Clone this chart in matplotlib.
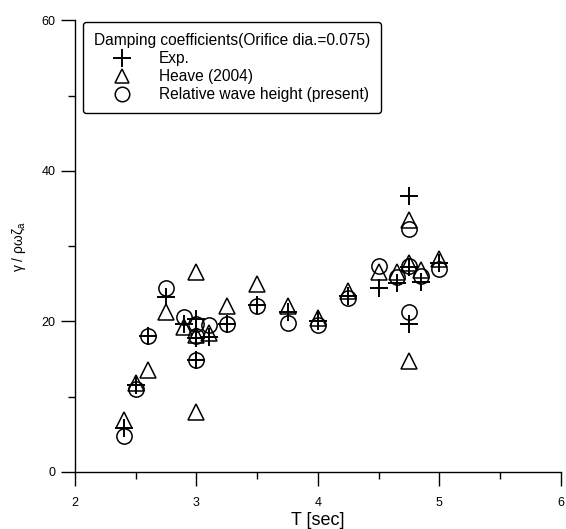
import matplotlib
matplotlib.use("Agg")
import matplotlib.pyplot as plt
from matplotlib.ticker import MultipleLocator

plt.rcParams['font.family'] = ['Liberation Sans', 'DejaVu Sans']

# Exp. (plus markers)
exp_T = [2.4, 2.5, 2.6, 2.75, 2.9, 3.0, 3.0, 3.0, 3.1, 3.25, 3.5, 3.75, 4.0, 4.25, 4.5, 4.65, 4.75, 4.75, 4.75, 4.85, 5.0]
exp_y = [5.8, 11.5, 18.0, 23.3, 19.6, 20.3, 17.8, 14.9, 17.9, 19.7, 22.2, 21.2, 20.0, 23.4, 24.4, 25.1, 36.6, 19.6, 27.2, 25.2, 27.7]

# Heave (2004) (triangle markers)
heave_T = [2.4, 2.5, 2.6, 2.75, 2.9, 3.0, 3.0, 3.0, 3.1, 3.25, 3.5, 3.75, 4.0, 4.25, 4.5, 4.65, 4.75, 4.75, 4.75, 4.85, 5.0]
heave_y = [6.9, 11.8, 13.5, 21.3, 19.2, 26.6, 8.0, 18.2, 18.5, 22.0, 25.0, 22.0, 20.4, 24.0, 26.6, 26.6, 33.5, 14.7, 27.8, 26.8, 28.3]

# Relative wave height (present) (circle markers)
rel_T = [2.4, 2.5, 2.6, 2.75, 2.9, 3.0, 3.0, 3.0, 3.1, 3.25, 3.5, 3.75, 4.0, 4.25, 4.5, 4.65, 4.75, 4.75, 4.75, 4.85, 5.0]
rel_y = [4.8, 11.0, 18.0, 24.4, 20.6, 19.6, 18.0, 14.9, 19.5, 19.6, 22.1, 19.8, 19.5, 23.1, 27.3, 25.9, 32.3, 21.3, 27.4, 26.0, 27.0]

legend_title = "Damping coefficients(Orifice dia.=0.075)"
labels = ["Exp.", "Heave (2004)", "Relative wave height (present)"]

fig = plt.figure(figsize=(5.66, 5.29), dpi=100)
ax = fig.add_axes([0.1325, 0.1078, 0.8585, 0.854])

ms = 11
ax.plot(exp_T, exp_y, linestyle='none', marker='+', ms=ms + 2, mew=1.4,
        color='black', label=labels[0])
ax.plot(heave_T, heave_y, linestyle='none', marker='^', ms=ms, mew=1.1,
        mfc='none', mec='black', label=labels[1])
ax.plot(rel_T, rel_y, linestyle='none', marker='o', ms=ms, mew=1.1,
        mfc='none', mec='black', label=labels[2])

ax.set_xlim(2, 6)
ax.set_ylim(0, 60)
ax.xaxis.set_major_locator(MultipleLocator(1))
ax.xaxis.set_minor_locator(MultipleLocator(0.5))
ax.yaxis.set_major_locator(MultipleLocator(20))
ax.yaxis.set_minor_locator(MultipleLocator(10))

for s in ['top', 'right']:
    ax.spines[s].set_visible(False)
for s in ['left', 'bottom']:
    ax.spines[s].set_linewidth(1.0)

ax.tick_params(which='major', direction='out', length=10, width=1.0,
               labelsize=9, pad=8)
ax.tick_params(axis='y', which='major', pad=4)
ax.tick_params(which='minor', direction='out', length=5, width=1.0)

ax.set_xlabel("T [sec]", fontsize=13, labelpad=2)
ax.set_ylabel(r"γ / ρωζ$_{\mathregular{a}}$", fontsize=10, labelpad=10)

leg = ax.legend(title=legend_title, loc='upper left',
                bbox_to_anchor=(0.016, 0.996), borderaxespad=0,
                fontsize=11.2, title_fontsize=11.2, frameon=True, fancybox=True,
                edgecolor='black', framealpha=1, alignment='left',
                handletextpad=0.6, borderpad=0.7, labelspacing=0.2,
                handlelength=3.6, markerscale=0.95)
leg.get_frame().set_linewidth(1.0)

fig.savefig("out.png", dpi=100)
